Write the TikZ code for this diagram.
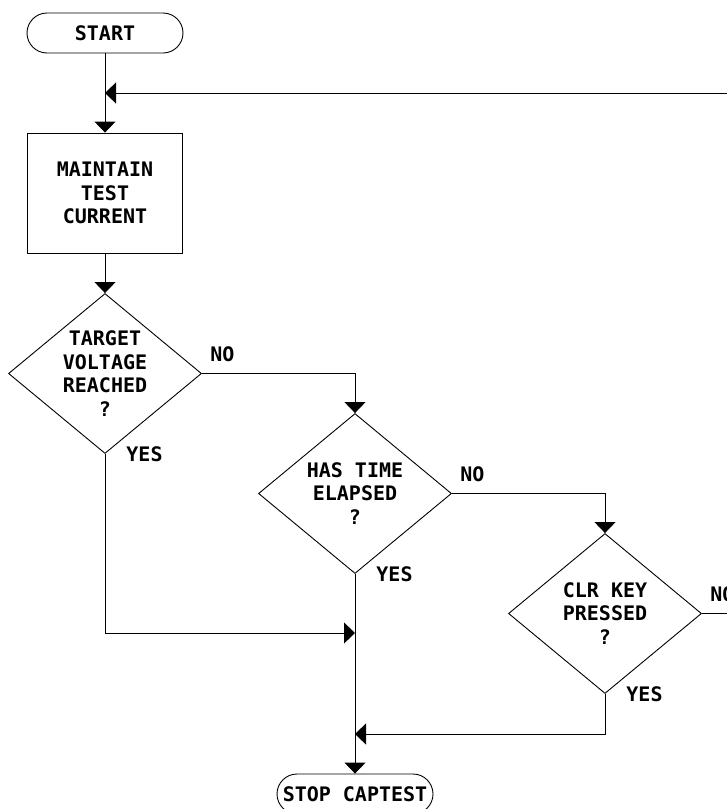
\documentclass[tikz,border=0pt]{standalone}
\usepackage{fontspec}
\setmonofont{DejaVu Sans Mono}
\usetikzlibrary{shapes.geometric,arrows.meta,positioning}

\begin{document}
\begin{tikzpicture}[
x=1pt, y=-1pt, line width=0.9pt,
every node/.style={font=\ttfamily\bfseries\fontsize{20}{23.5}\selectfont, align=center, inner sep=0pt},
term/.style={draw, rounded corners=20pt, minimum width=156pt, minimum height=40pt},
proc/.style={draw, minimum width=155pt, minimum height=120pt},
test/.style={draw, diamond, aspect=1.2, minimum width=193pt, minimum height=160pt},
flow/.style={-{Triangle[width=21pt,length=11pt]}},
lbl/.style={anchor=base west}
]
\clip (0,0) rectangle (727,809);

\node[term] (start) at (105,33) {START};
\node[proc] (keep) at (105,193) {MAINTAIN\\TEST\\CURRENT};
\node[test] (volt) at (105,373.5) {TARGET\\VOLTAGE\\REACHED\\?};
\node[test] (time) at (355,493.5) {HAS TIME\\ELAPSED\\?};
\node[test] (clr) at (605,613.5) {CLR KEY\\PRESSED\\?};
\node[term] (stop) at (355,794) {STOP CAPTEST};

% yes / no labels
\node[lbl] (no1) at ([shift={(8,-12)}]volt.east) {NO};
\node[lbl] (yes1) at ([shift={(21,8)}]volt.south) {YES};
\node[lbl] (no2) at ([shift={(8,-12)}]time.east) {NO};
\node[lbl] (yes2) at ([shift={(21,8)}]time.south) {YES};
\node[lbl] (no3) at ([shift={(8,-12)}]clr.east) {NO};
\node[lbl] (yes3) at ([shift={(21,8)}]clr.south) {YES};

\coordinate (back) at (105,93);
\coordinate (m1) at (355,633);
\coordinate (m2) at (355,734);

\draw[flow] (start) -- (keep);
\draw[flow] (clr.east) -- ++(40,0) |- (back);
\draw[flow] (keep) -- (volt);
\draw[flow] (volt.east) -| (time.north);
\draw[flow] (time.east) -| (clr.north);
\draw[flow] (volt.south) |- (m1);
\draw[flow] (clr.south) |- (m2);
\draw[flow] (time.south) -- (stop.north);
\end{tikzpicture}
\end{document}
